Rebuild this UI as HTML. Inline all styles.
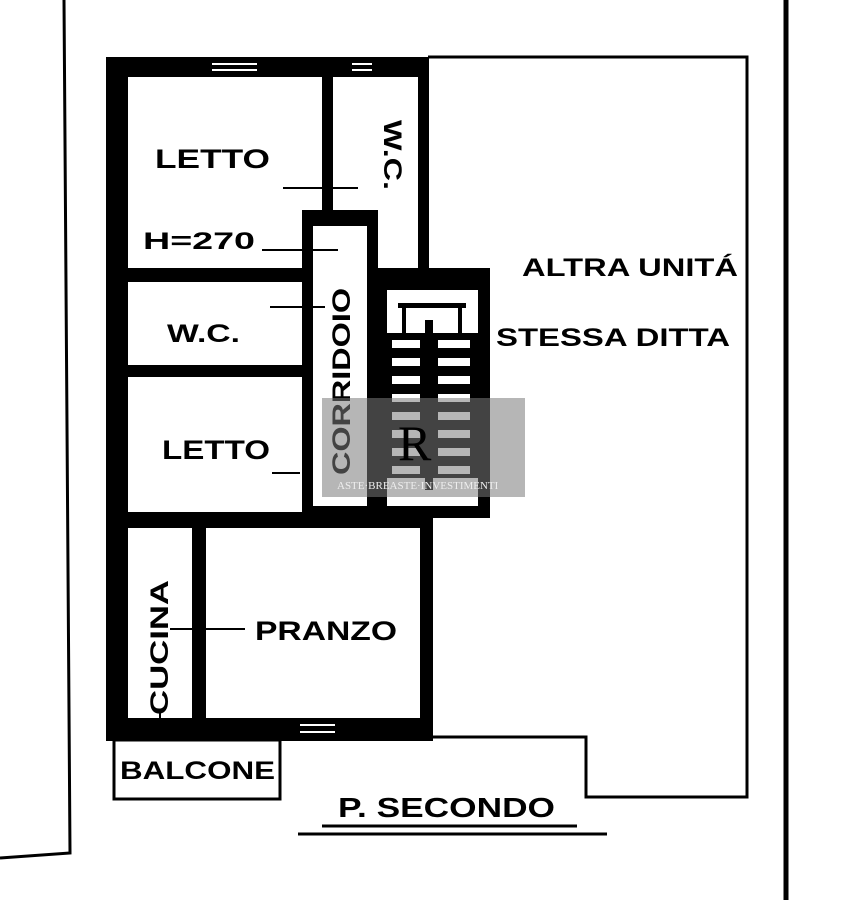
<!DOCTYPE html>
<html><head><meta charset="utf-8"><style>
html,body{margin:0;padding:0;background:#fff}
svg{display:block}
text{font-family:"Liberation Sans",sans-serif;font-weight:bold;fill:#000}
</style></head><body>
<svg width="855" height="900" viewBox="0 0 855 900" xmlns="http://www.w3.org/2000/svg">
<polyline points="64,0 70,853 0,858" fill="none" stroke="#000" stroke-width="3"/>
<line x1="786" y1="0" x2="786" y2="900" stroke="#000" stroke-width="5"/>
<polyline points="428,57 747,57 747,797 586,797 586,737 433,737" fill="none" stroke="#000" stroke-width="3"/>
<rect x="114" y="740" width="166" height="59" fill="none" stroke="#000" stroke-width="3"/>
<g fill="#000">
<rect x="106" y="57" width="322" height="20"/>
<rect x="106" y="57" width="22" height="684"/>
<rect x="106" y="718" width="327" height="23"/>
<rect x="322" y="57" width="11" height="160"/>
<rect x="418" y="57" width="11" height="215"/>
<rect x="128" y="268" width="176" height="14"/>
<rect x="128" y="365" width="176" height="12"/>
<rect x="128" y="512" width="305" height="16"/>
<rect x="302" y="210" width="76" height="308"/>
<rect x="375" y="268" width="115" height="250"/>
<rect x="192" y="528" width="14" height="192"/>
<rect x="420" y="515" width="13" height="225"/>
</g>
<rect x="313" y="226" width="54" height="280" fill="#fff"/>
<rect x="387" y="290" width="91" height="216" fill="#fff"/>
<g fill="#000">
<rect x="398" y="303" width="68" height="5"/>
<rect x="402" y="303" width="4" height="40"/>
<rect x="458" y="303" width="4" height="40"/>
<rect x="387" y="333" width="91" height="145"/>
<rect x="425" y="320" width="8" height="170"/>
</g>
<g fill="#fff">
<rect x="392" y="340" width="28" height="8"/><rect x="438" y="340" width="32" height="8"/>
<rect x="392" y="358" width="28" height="8"/><rect x="438" y="358" width="32" height="8"/>
<rect x="392" y="376" width="28" height="8"/><rect x="438" y="376" width="32" height="8"/>
<rect x="392" y="394" width="28" height="8"/><rect x="438" y="394" width="32" height="8"/>
<rect x="392" y="412" width="28" height="8"/><rect x="438" y="412" width="32" height="8"/>
<rect x="392" y="430" width="28" height="8"/><rect x="438" y="430" width="32" height="8"/>
<rect x="392" y="448" width="28" height="8"/><rect x="438" y="448" width="32" height="8"/>
<rect x="392" y="466" width="28" height="8"/><rect x="438" y="466" width="32" height="8"/>
</g>
<g fill="#fff">
<rect x="212" y="63" width="45" height="2"/><rect x="212" y="69" width="45" height="2"/>
<rect x="352" y="63" width="20" height="2"/><rect x="352" y="69" width="20" height="2"/>
<rect x="300" y="724" width="35" height="2"/><rect x="300" y="731" width="35" height="2"/>
</g>
<g stroke="#000" stroke-width="2">
<line x1="283" y1="188" x2="358" y2="188"/>
<line x1="262" y1="250" x2="338" y2="250"/>
<line x1="270" y1="307" x2="325" y2="307"/>
<line x1="272" y1="473" x2="300" y2="473"/>
<line x1="170" y1="629" x2="245" y2="629"/>
<line x1="160" y1="710" x2="160" y2="740"/>
</g>
<text x="155" y="168" font-size="27" textLength="115" lengthAdjust="spacingAndGlyphs">LETTO</text>
<text x="143" y="249" font-size="24" textLength="112" lengthAdjust="spacingAndGlyphs">H=270</text>
<text x="167" y="342" font-size="25" textLength="73" lengthAdjust="spacingAndGlyphs">W.C.</text>
<text x="162" y="459" font-size="27" textLength="108" lengthAdjust="spacingAndGlyphs">LETTO</text>
<text transform="translate(384,120) rotate(90)" font-size="25" textLength="70" lengthAdjust="spacingAndGlyphs">W.C.</text>
<text transform="translate(350,475) rotate(-90)" font-size="25" textLength="187" lengthAdjust="spacingAndGlyphs">CORRIDOIO</text>
<text transform="translate(168,715) rotate(-90)" font-size="25" textLength="135" lengthAdjust="spacingAndGlyphs">CUCINA</text>
<text x="522" y="276" font-size="25" textLength="216" lengthAdjust="spacingAndGlyphs">ALTRA UNITÁ</text>
<text x="496" y="346" font-size="25" textLength="234" lengthAdjust="spacingAndGlyphs">STESSA DITTA</text>
<text x="255" y="640" font-size="27" textLength="142" lengthAdjust="spacingAndGlyphs">PRANZO</text>
<text x="120" y="779" font-size="25" textLength="155" lengthAdjust="spacingAndGlyphs">BALCONE</text>
<text x="338" y="817" font-size="28" textLength="217" lengthAdjust="spacingAndGlyphs">P. SECONDO</text>
<line x1="322" y1="826" x2="577" y2="826" stroke="#000" stroke-width="3"/>
<line x1="298" y1="834" x2="607" y2="834" stroke="#000" stroke-width="3"/>
<rect x="322" y="398" width="203" height="99" fill="#7a7a7a" fill-opacity="0.55"/>
<text x="398" y="460" font-size="50" style="font-family:'Liberation Serif',serif;font-weight:normal" fill="#c9a640">R</text>
<text x="337" y="489" font-size="11" style="font-family:'Liberation Serif',serif;font-weight:normal;fill:#eee">ASTE·BREASTE·INVESTIMENTI</text>
</svg>
</body></html>
